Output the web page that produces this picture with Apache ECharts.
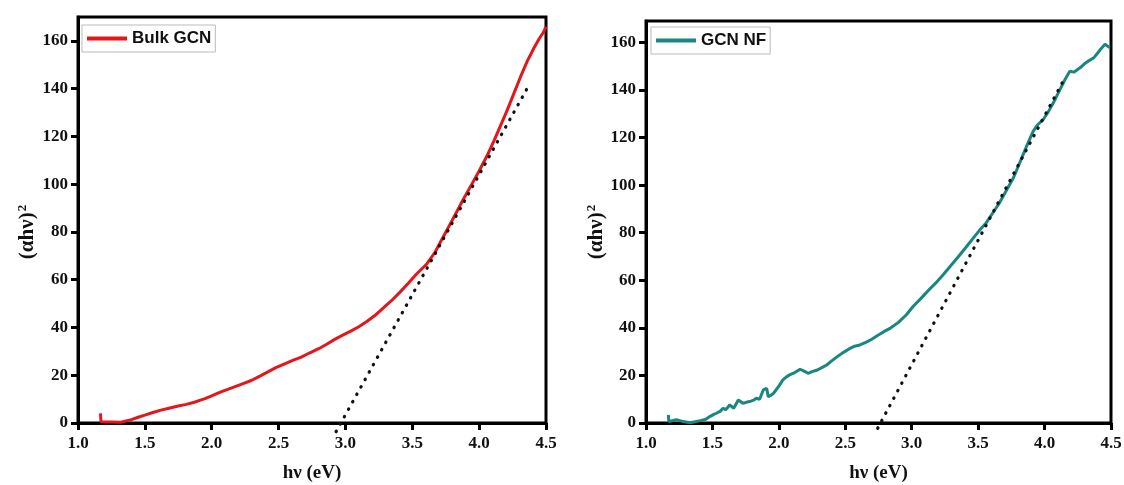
<!DOCTYPE html>
<html><head><meta charset="utf-8">
<script src="https://cdn.jsdelivr.net/npm/echarts@6/dist/echarts.min.js"></script>
<style>html,body{margin:0;padding:0;background:#fff}#c{width:1124px;height:485px}</style>
</head><body><div id="c"></div><script>
// ---- data ----
const seriesNames = ['Bulk GCN', 'GCN NF'];
const bulkX = [1.168,1.172,1.25,1.32,1.40,1.45,1.50,1.56,1.62,1.68,1.75,1.81,1.87,1.91,1.95,2.00,2.05,2.11,2.17,2.23,2.30,2.36,2.42,2.48,2.55,2.61,2.67,2.73,2.80,2.86,2.92,2.98,3.04,3.10,3.16,3.22,3.28,3.34,3.41,3.47,3.53,3.61,3.67,3.73,3.80,3.88,3.94,4.00,4.06,4.11,4.16,4.21,4.26,4.31,4.36,4.41,4.45,4.48,4.50];
const bulkY = [4.0,0.5,0.4,0.3,1.4,2.4,3.3,4.4,5.4,6.2,7.1,7.8,8.7,9.5,10.2,11.4,12.6,13.9,15.1,16.4,17.9,19.6,21.4,23.2,24.9,26.3,27.6,29.3,31.1,33.0,35.0,36.8,38.5,40.3,42.5,45.0,48.0,51.0,54.9,58.5,62.3,66.7,71.5,77.8,85.0,93.5,99.5,105.5,112.0,118.0,124.5,131.0,138.0,145.0,151.5,157.0,161.0,163.5,166.0];
const nfX = [1.168,1.172,1.23,1.28,1.33,1.37,1.41,1.45,1.48,1.51,1.53,1.56,1.58,1.60,1.63,1.66,1.695,1.73,1.76,1.78,1.81,1.83,1.855,1.87,1.883,1.908,1.92,1.94,1.96,2.00,2.03,2.06,2.08,2.12,2.16,2.19,2.22,2.25,2.29,2.33,2.36,2.40,2.44,2.49,2.54,2.57,2.61,2.65,2.69,2.74,2.79,2.84,2.90,2.96,3.01,3.07,3.13,3.18,3.24,3.30,3.36,3.41,3.46,3.51,3.56,3.61,3.66,3.71,3.765,3.81,3.865,3.915,3.95,3.99,4.03,4.066,4.11,4.154,4.19,4.22,4.267,4.30,4.342,4.37,4.392,4.42,4.455,4.47,4.49];
const nfY = [3.4,0.6,1.4,0.6,0.1,0.5,1.0,1.6,2.7,3.6,4.1,5.0,6.2,5.6,7.6,6.2,9.7,8.3,8.8,9.0,9.6,10.4,10.0,9.4,13.9,14.6,11.1,11.6,12.5,15.5,18.1,19.5,20.2,21.2,22.6,21.8,20.9,21.6,22.3,23.5,24.4,26.2,27.9,29.8,31.5,32.3,32.8,33.8,34.9,36.7,38.4,39.9,42.3,45.5,49.0,52.4,56.0,58.8,62.5,66.5,70.5,74.0,77.5,81.0,84.1,88.3,92.5,97.5,103.0,109.0,116.4,122.7,125.5,127.6,131.0,134.6,139.5,144.4,147.9,147.5,149.3,151.0,152.6,153.5,155.0,157.0,159.2,158.6,157.8];
const bulkFitX = [2.93, 4.375];
const bulkFitY = [-3.6, 141.7];
const nfFitX = [2.744, 4.146];
const nfFitY = [-2.2, 144.4];
const xTicks = [1.0,1.5,2.0,2.5,3.0,3.5,4.0,4.5];
const yTicks = [0,20,40,60,80,100,120,140,160];
const xTitle = 'hν (eV)';

// ---- build ----
const zip = (xs, ys) => xs.map((x, i) => [x, ys[i]]);
const RED = '#e3161c', TEAL = '#178780';
const serif = '"Liberation Serif","Times New Roman",serif';
const sans = '"Liberation Sans",Arial,sans-serif';

function xAxis(gi) {
  return {
    type: 'value', gridIndex: gi, min: 1, max: 4.5, interval: 0.5,
    name: xTitle, nameLocation: 'middle', nameGap: 41,
    nameTextStyle: {fontFamily: serif, fontWeight: 'bold', fontSize: 19, color: '#111'},
    axisLine: {lineStyle: {color: '#000', width: 3}},
    axisTick: {inside: false, length: 7, lineStyle: {color: '#000', width: 3}, customValues: xTicks},
    axisLabel: {margin: 12, fontFamily: serif, fontWeight: 'bold', fontSize: 17, color: '#111',
      customValues: xTicks, formatter: v => Number(v).toFixed(1)},
    splitLine: {show: false}
  };
}
function yAxis(gi, max) {
  return {
    type: 'value', gridIndex: gi, min: 0, max: max, interval: 20,
    axisLine: {lineStyle: {color: '#000', width: 3}},
    axisTick: {inside: false, length: 7, lineStyle: {color: '#000', width: 3}, customValues: yTicks},
    axisLabel: {margin: 10, fontFamily: serif, fontWeight: 'bold', fontSize: 17, color: '#111', customValues: yTicks},
    splitLine: {show: false}
  };
}
function legend(name, left, top) {
  return {
    data: [name], left: left, top: top, icon: 'rect', itemWidth: 40, itemHeight: 4,
    padding: [5, 4, 5, 5], borderColor: '#bbb', borderWidth: 1, backgroundColor: '#fff',
    textStyle: {fontFamily: sans, fontWeight: 'bold', fontSize: 17, color: '#111'}
  };
}
function yTitle(x, y) {
  return {
    type: 'text', x: x, y: y, rotation: Math.PI / 2,
    style: {
      text: '{b|(αhν)}{s|2}', align: 'center', verticalAlign: 'middle',
      rich: {
        b: {fontFamily: serif, fontWeight: 'bold', fontSize: 21, fill: '#111', lineHeight: 24},
        s: {fontFamily: serif, fontWeight: 'bold', fontSize: 13, fill: '#111', verticalAlign: 'top', lineHeight: 24, padding: [0, 0, 11, 1]}
      }
    }
  };
}
function curve(name, gi, data, color) {
  return {name: name, type: 'line', xAxisIndex: gi, yAxisIndex: gi, data: data,
    showSymbol: false, symbol: 'none', lineStyle: {color: color, width: 3}, itemStyle: {color: color}, z: 3};
}
function fit(gi, data) {
  return {type: 'line', xAxisIndex: gi, yAxisIndex: gi, data: data, showSymbol: false, symbol: 'none',
    clip: false, silent: true, z: 4,
    lineStyle: {color: '#111', width: 3.2, type: [0.5, 8], cap: 'round'}};
}

const option = {
  animation: false,
  backgroundColor: '#fff',
  grid: [
    {left: 78, top: 17, width: 468, height: 406, show: true, borderColor: '#000', borderWidth: 3, outerBoundsMode: 'none', containLabel: false},
    {left: 646, top: 21, width: 465, height: 402, show: true, borderColor: '#000', borderWidth: 3, outerBoundsMode: 'none', containLabel: false}
  ],
  xAxis: [xAxis(0), xAxis(1)],
  yAxis: [yAxis(0, 170), yAxis(1, 169)],
  legend: [legend(seriesNames[0], 82, 25), legend(seriesNames[1], 651, 27)],
  graphic: [yTitle(28, 232), yTitle(597, 232)],
  series: [
    curve(seriesNames[0], 0, zip(bulkX, bulkY), RED),
    fit(0, zip(bulkFitX, bulkFitY)),
    curve(seriesNames[1], 1, zip(nfX, nfY), TEAL),
    fit(1, zip(nfFitX, nfFitY))
  ]
};
const chart = echarts.init(document.getElementById('c'), null, {renderer: 'canvas'});
chart.setOption(option);
</script></body></html>
